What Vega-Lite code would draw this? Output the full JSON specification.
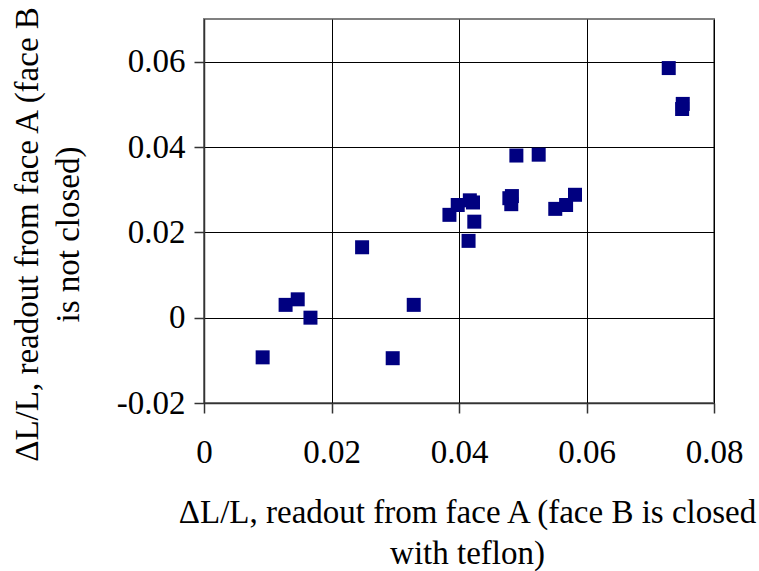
{
  "$schema": "https://vega.github.io/schema/vega-lite/v6.json",
  "width": 510,
  "height": 384,
  "autosize": {"type": "none"},
  "padding": {"left": 204, "top": 19, "right": 45, "bottom": 168},
  "background": "white",
  "config": {
    "view": {"stroke": "#808080", "strokeWidth": 2},
    "font": "'Liberation Serif', 'DejaVu Serif', serif"
  },
  "data": {
    "values": [
      {"x": 0.0729, "y": 0.0585},
      {"x": 0.0751, "y": 0.0501},
      {"x": 0.0750, "y": 0.0489},
      {"x": 0.0490, "y": 0.0380},
      {"x": 0.0525, "y": 0.0382},
      {"x": 0.0582, "y": 0.0288},
      {"x": 0.0568, "y": 0.0264},
      {"x": 0.0551, "y": 0.0255},
      {"x": 0.0483, "y": 0.0285},
      {"x": 0.0479, "y": 0.0280},
      {"x": 0.0482, "y": 0.0266},
      {"x": 0.0417, "y": 0.0275},
      {"x": 0.0422, "y": 0.0270},
      {"x": 0.0398, "y": 0.0264},
      {"x": 0.0385, "y": 0.0241},
      {"x": 0.0424, "y": 0.0225},
      {"x": 0.0415, "y": 0.0180},
      {"x": 0.0248, "y": 0.0165},
      {"x": 0.0147, "y": 0.0043},
      {"x": 0.0128, "y": 0.0030},
      {"x": 0.0167, "y": 0.0000},
      {"x": 0.0329, "y": 0.0030},
      {"x": 0.0092, "y": -0.0093},
      {"x": 0.0296, "y": -0.0095}
    ]
  },
  "mark": {"type": "point", "shape": "square", "filled": true, "size": 196, "color": "#000080", "opacity": 1},
  "encoding": {
    "x": {
      "field": "x",
      "type": "quantitative",
      "scale": {"domain": [0, 0.08], "nice": false, "zero": false},
      "axis": {
        "values": [0, 0.02, 0.04, 0.06, 0.08],
        "format": "~g",
        "grid": true,
        "gridColor": "#000000",
        "gridWidth": 1,
        "gridOpacity": 1,
        "domainColor": "#333333",
        "domainWidth": 1.5,
        "tickColor": "#333333",
        "tickWidth": 1.5,
        "tickSize": 10,
        "labelFont": "'Liberation Serif', 'DejaVu Serif', serif",
        "labelFontSize": 33,
        "labelColor": "#000000",
        "labelBaseline": "alphabetic",
        "labelPadding": 49.6,
        "labelOverlap": false,
        "labelBound": false,
        "labelFlush": false,
        "title": ["ΔL/L, readout from face A (face B is closed", "with teflon)"],
        "titleFont": "'Liberation Serif', 'DejaVu Serif', serif",
        "titleFontSize": 33,
        "titleFontWeight": "normal",
        "titleColor": "#000000",
        "titleLineHeight": 41,
        "titleBaseline": "alphabetic",
        "titleAlign": "center",
        "titleAnchor": null,
        "titleX": 263,
        "titleY": 119
      }
    },
    "y": {
      "field": "y",
      "type": "quantitative",
      "scale": {"domain": [-0.02, 0.07], "nice": false, "zero": false},
      "axis": {
        "values": [-0.02, 0, 0.02, 0.04, 0.06],
        "format": "~g",
        "labelExpr": "replace(datum.label, '−', '-')",
        "grid": true,
        "gridColor": "#000000",
        "gridWidth": 1,
        "gridOpacity": 1,
        "domainColor": "#333333",
        "domainWidth": 1.5,
        "tickColor": "#333333",
        "tickWidth": 1.5,
        "tickSize": 10,
        "labelFont": "'Liberation Serif', 'DejaVu Serif', serif",
        "labelFontSize": 33,
        "labelColor": "#000000",
        "labelPadding": 9,
        "labelOverlap": false,
        "labelBound": false,
        "labelFlush": false,
        "title": ["ΔL/L, readout from face A (face B", "is not closed)"],
        "titleFont": "'Liberation Serif', 'DejaVu Serif', serif",
        "titleFontSize": 33,
        "titleFontWeight": "normal",
        "titleColor": "#000000",
        "titleLineHeight": 41,
        "titleBaseline": "alphabetic",
        "titleAlign": "center",
        "titleAngle": 270,
        "titleAnchor": null,
        "titleX": -167,
        "titleY": 215
      }
    }
  }
}
